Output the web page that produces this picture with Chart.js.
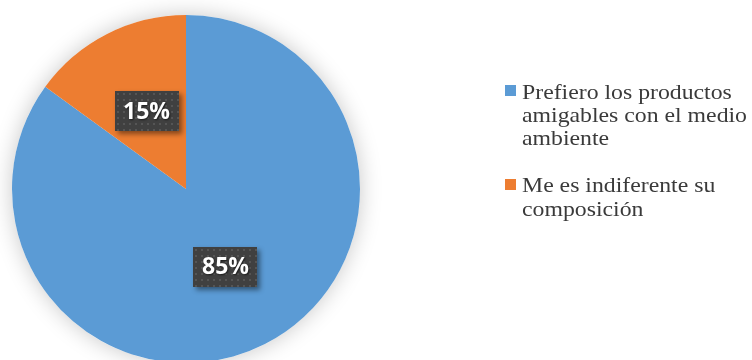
<!DOCTYPE html>
<html>
<head>
<meta charset="utf-8">
<script src="https://cdn.jsdelivr.net/npm/chart.js@4.4.0/dist/chart.umd.min.js"></script>
<style>
  html, body { margin: 0; padding: 0; background: #fff; overflow: hidden; }
  #wrap { position: relative; width: 752px; height: 380px; }
</style>
</head>
<body>
<div id="wrap"><canvas id="chart"></canvas></div>
<script>
const categories = [
  'Prefiero los productos amigables con el medio ambiente',
  'Me es indiferente su composición'
];
const percentages = [85, 15];
const sliceColors = ['#5B9BD5', '#ED7D31'];

// soft grey glow behind the pie
const pieGlow = {
  id: 'pieGlow',
  beforeDatasetsDraw(chart) {
    const arc = chart.getDatasetMeta(0).data[0];
    if (!arc) return;
    const ctx = chart.ctx;
    ctx.save();
    ctx.shadowColor = 'rgba(0,0,0,0.22)';
    ctx.shadowBlur = 22;
    ctx.fillStyle = '#ffffff';
    ctx.beginPath();
    ctx.arc(arc.x, arc.y, arc.outerRadius, 0, Math.PI * 2);
    ctx.fill();
    ctx.restore();
  }
};

function makeDotPattern(ctx) {
  const c = document.createElement('canvas');
  c.width = 6; c.height = 6;
  const p = c.getContext('2d');
  p.fillStyle = '#404040';
  p.fillRect(0, 0, 6, 6);
  p.fillStyle = '#555555';
  p.fillRect(2, 2, 2, 2);
  return ctx.createPattern(c, 'repeat');
}

// dark dotted boxes with the percentage in each slice
const sliceLabels = {
  id: 'sliceLabels',
  afterDatasetsDraw(chart) {
    const ctx = chart.ctx;
    const meta = chart.getDatasetMeta(0);
    const values = chart.data.datasets[0].data;
    const pattern = makeDotPattern(ctx);
    meta.data.forEach((arc, i) => {
      const pos = arc.tooltipPosition();
      const w = 64, h = 40;
      const x = Math.round(pos.x - w / 2), y = Math.round(pos.y - h / 2);
      ctx.save();
      ctx.shadowColor = 'rgba(0,0,0,0.45)';
      ctx.shadowBlur = 5;
      ctx.shadowOffsetX = 3;
      ctx.shadowOffsetY = 3;
      ctx.fillStyle = '#404040';
      ctx.fillRect(x, y, w, h);
      ctx.restore();
      ctx.save();
      ctx.fillStyle = pattern;
      ctx.translate(x, y);
      ctx.fillRect(0, 0, w, h);
      ctx.restore();
      ctx.save();
      ctx.shadowColor = 'rgba(0,0,0,0.6)';
      ctx.shadowBlur = 2;
      ctx.shadowOffsetX = 1;
      ctx.shadowOffsetY = 1;
      ctx.fillStyle = '#ffffff';
      ctx.font = 'bold 23px "Open Sans", sans-serif';
      ctx.textAlign = 'center';
      ctx.textBaseline = 'middle';
      ctx.fillText(values[i] + '%', pos.x, pos.y + 1);
      ctx.restore();
    });
  }
};

// legend on the right, serif text wrapped into lines
const sideLegend = {
  id: 'sideLegend',
  afterDraw(chart) {
    const ctx = chart.ctx;
    const colors = chart.data.datasets[0].backgroundColor;
    const sx = 1.08;
    const maxW = 232;
    let baseline = 98.5;
    ctx.save();
    ctx.font = '22px "Liberation Serif", "Times New Roman", serif';
    chart.data.labels.forEach((label, i) => {
      const words = label.split(' ');
      const lines = [];
      let cur = '';
      words.forEach((wd) => {
        const test = cur ? cur + ' ' + wd : wd;
        if (ctx.measureText(test).width * sx > maxW && cur) {
          lines.push(cur);
          cur = wd;
        } else {
          cur = test;
        }
      });
      if (cur) lines.push(cur);

      ctx.fillStyle = colors[i];
      ctx.fillRect(505, Math.round(baseline - 13.5), 11, 11);

      ctx.fillStyle = '#3a3a3a';
      lines.forEach((ln, k) => {
        ctx.save();
        ctx.translate(522, baseline + k * 23.3);
        ctx.scale(sx, 1);
        ctx.textBaseline = 'alphabetic';
        ctx.fillText(ln, 0, 0);
        ctx.restore();
      });
      baseline += lines.length * 23.3 + 24;
    });
    ctx.restore();
  }
};

new Chart(document.getElementById('chart').getContext('2d'), {
  type: 'pie',
  data: {
    labels: categories,
    datasets: [{
      data: percentages,
      backgroundColor: sliceColors,
      borderWidth: 0
    }]
  },
  options: {
    responsive: true,
    maintainAspectRatio: false,
    animation: false,
    layout: { padding: { left: 12, top: 15, right: 392, bottom: 17 } },
    plugins: {
      legend: { display: false },
      tooltip: { enabled: false }
    }
  },
  plugins: [pieGlow, sliceLabels, sideLegend]
});
</script>
</body>
</html>
